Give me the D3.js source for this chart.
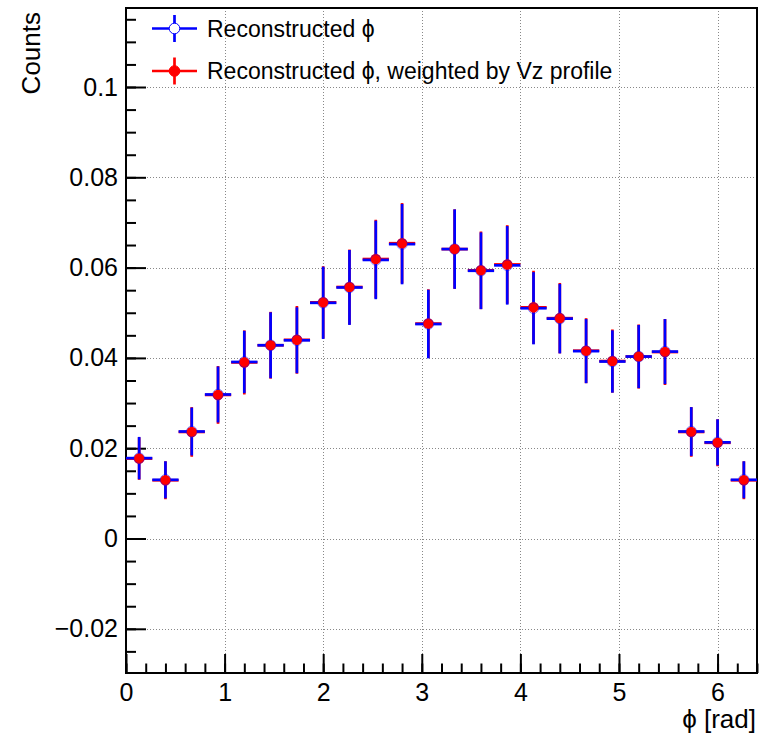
<!DOCTYPE html>
<html>
<head>
<meta charset="utf-8">
<script src="https://cdn.jsdelivr.net/npm/d3@7"></script>
<style>
  html, body { margin: 0; padding: 0; background: #fff; }
  svg { display: block; font-family: "Liberation Sans", Arial, Helvetica, sans-serif; }
</style>
</head>
<body>
<svg id="chart" width="762" height="735"></svg>
<script>
// Histogram binning: 24 bins on [0, 6.4] rad
const nBins = 24;
const xLow = 0, xHigh = 6.4;

// Reconstructed phi (blue, open circles)
const recoValues = [0.0178, 0.0130, 0.0237, 0.0319, 0.0391, 0.0428, 0.0439, 0.0522,
                    0.0556, 0.0617, 0.0652, 0.0475, 0.0641, 0.0593, 0.0605, 0.0510,
                    0.0487, 0.0415, 0.0392, 0.0403, 0.0414, 0.0237, 0.0213, 0.0130];
const recoErrors = [0.0047, 0.0041, 0.0053, 0.0062, 0.0069, 0.0073, 0.0073, 0.0080,
                    0.0083, 0.0087, 0.0089, 0.0076, 0.0088, 0.0085, 0.0087, 0.0080,
                    0.0077, 0.0071, 0.0069, 0.0070, 0.0072, 0.0054, 0.0051, 0.0041];

// Reconstructed phi weighted by the Vz profile (red, filled circles)
const weightedValues = [0.0177, 0.0129, 0.0236, 0.0318, 0.0390, 0.0428, 0.0440, 0.0523,
                        0.0557, 0.0619, 0.0654, 0.0476, 0.0641, 0.0594, 0.0607, 0.0512,
                        0.0488, 0.0416, 0.0393, 0.0403, 0.0413, 0.0236, 0.0212, 0.0129];
const weightedErrors = [0.0047, 0.0042, 0.0055, 0.0064, 0.0071, 0.0074, 0.0075, 0.0080,
                        0.0083, 0.0087, 0.0089, 0.0076, 0.0088, 0.0086, 0.0087, 0.0081,
                        0.0078, 0.0072, 0.0070, 0.0071, 0.0073, 0.0055, 0.0052, 0.0042];

const yMajorTicks = [-0.02, 0, 0.02, 0.04, 0.06, 0.08, 0.1];
const yTickLabels = ["\u22120.02", "0", "0.02", "0.04", "0.06", "0.08", "0.1"];
const xMajorTicks = [0, 1, 2, 3, 4, 5, 6];
const xTickLabels = ["0", "1", "2", "3", "4", "5", "6"];

const legendLabels = ["Reconstructed \u03D5", "Reconstructed \u03D5, weighted by Vz profile"];
const xTitle = "\u03D5 [rad]";
const yTitle = "Counts";

// ---- layout ----
const frame = { left: 126, right: 757, top: 8, bottom: 673 };
const yMin = -0.02979, yMax = 0.1175;

const svg = d3.select("#chart");
const x = d3.scaleLinear().domain([xLow, xHigh]).range([frame.left, frame.right]);
const y = d3.scaleLinear().domain([yMin, yMax]).range([frame.bottom, frame.top]);

const binWidth = (xHigh - xLow) / nBins;
const centers = d3.range(nBins).map(i => xLow + (i + 0.5) * binWidth);

const blue = "#0000ff", red = "#ff0000";

// ---- grid ----
const grid = svg.append("g").attr("stroke", "#888").attr("stroke-width", 1)
  .attr("stroke-dasharray", "1,2");
grid.selectAll("line.gx").data(xMajorTicks.filter(v => v > xLow)).enter().append("line")
  .attr("x1", d => Math.round(x(d)) + 0.5).attr("x2", d => Math.round(x(d)) + 0.5)
  .attr("y1", frame.top).attr("y2", frame.bottom);
grid.selectAll("line.gy").data(yMajorTicks).enter().append("line")
  .attr("y1", d => Math.round(y(d)) + 0.5).attr("y2", d => Math.round(y(d)) + 0.5)
  .attr("x1", frame.left).attr("x2", frame.right);

// ---- axes (ticks point into the frame) ----
const fontSize = 25;
const yMinor = d3.range(-0.025, 0.1176, 0.005).map(v => +v.toFixed(4));
const xMinor = d3.range(0, 6.41, 0.2).map(v => +v.toFixed(2));

const yAxisMinor = svg.append("g").attr("transform", `translate(${frame.left},0)`)
  .call(d3.axisLeft(y).tickValues(yMinor).tickSize(-10).tickFormat(""));
const yAxis = svg.append("g").attr("transform", `translate(${frame.left},0)`)
  .call(d3.axisLeft(y).tickValues(yMajorTicks).tickSize(-20).tickPadding(8)
    .tickFormat((d, i) => yTickLabels[i]));
const xAxisMinor = svg.append("g").attr("transform", `translate(0,${frame.bottom})`)
  .call(d3.axisBottom(x).tickValues(xMinor).tickSize(-9.5).tickFormat(""));
const xAxis = svg.append("g").attr("transform", `translate(0,${frame.bottom})`)
  .call(d3.axisBottom(x).tickValues(xMajorTicks).tickSize(-19).tickPadding(10)
    .tickFormat((d, i) => xTickLabels[i]));

[yAxisMinor, yAxis, xAxisMinor, xAxis].forEach(g => {
  g.select(".domain").remove();
  g.selectAll(".tick line").attr("stroke", "#000").attr("stroke-width", 2);
  g.selectAll("text").attr("font-size", fontSize).attr("fill", "#000")
    .attr("font-family", "'Liberation Sans', Arial, sans-serif");
});

// ---- frame ----
svg.append("rect")
  .attr("x", frame.left).attr("y", frame.top)
  .attr("width", frame.right - frame.left).attr("height", frame.bottom - frame.top)
  .attr("fill", "none").attr("stroke", "#000").attr("stroke-width", 2);

// ---- data: error bars and markers ----
function drawSeries(values, errors, color, lw) {
  const g = svg.append("g").attr("stroke", color).attr("stroke-width", lw);
  g.selectAll("line.v").data(values).enter().append("line")
    .attr("x1", (d, i) => x(centers[i])).attr("x2", (d, i) => x(centers[i]))
    .attr("y1", (d, i) => y(d + errors[i])).attr("y2", (d, i) => y(d - errors[i]));
  g.selectAll("line.h").data(values).enter().append("line")
    .attr("x1", (d, i) => x(centers[i] - binWidth / 2)).attr("x2", (d, i) => x(centers[i] + binWidth / 2))
    .attr("y1", d => y(d)).attr("y2", d => y(d));
}
drawSeries(weightedValues, weightedErrors, red, 2.7);
drawSeries(recoValues, recoErrors, blue, 2.7);

// filled red markers, with the blue open markers drawn over them
svg.append("g").selectAll("circle").data(weightedValues).enter().append("circle")
  .attr("cx", (d, i) => x(centers[i])).attr("cy", d => y(d)).attr("r", 5.3)
  .attr("fill", red);
svg.append("g").selectAll("circle").data(recoValues).enter().append("circle")
  .attr("cx", (d, i) => x(centers[i])).attr("cy", d => y(d)).attr("r", 5.3)
  .attr("fill", "none").attr("stroke", blue).attr("stroke-width", 1).attr("stroke-opacity", 0.45);

// ---- legend ----
const legendRows = [
  { label: legendLabels[0], color: blue, filled: false, cy: 28.5 },
  { label: legendLabels[1], color: red, filled: true, cy: 71 }
];
const lg = svg.append("g");
legendRows.forEach(r => {
  const row = lg.append("g");
  row.append("line").attr("x1", 152).attr("x2", 197).attr("y1", r.cy).attr("y2", r.cy)
    .attr("stroke", r.color).attr("stroke-width", 2.7);
  row.append("line").attr("x1", 174.5).attr("x2", 174.5).attr("y1", r.cy - 13.5).attr("y2", r.cy + 13.5)
    .attr("stroke", r.color).attr("stroke-width", 2.7);
  row.append("circle").attr("cx", 174.5).attr("cy", r.cy).attr("r", 5.3)
    .attr("fill", r.filled ? r.color : "#fff").attr("stroke", r.color).attr("stroke-width", 1);
  row.append("text").attr("x", 207).attr("y", r.cy).attr("dy", "0.36em")
    .attr("font-size", 23).attr("fill", "#000").text(r.label);
});

// ---- axis titles ----
svg.append("text").attr("x", frame.right - 1).attr("y", 728)
  .attr("text-anchor", "end").attr("font-size", 26).attr("fill", "#000").text(xTitle);
svg.append("text").attr("transform", "translate(40,12) rotate(-90)")
  .attr("text-anchor", "end").attr("font-size", 26).attr("fill", "#000").text(yTitle);
</script>
</body>
</html>
